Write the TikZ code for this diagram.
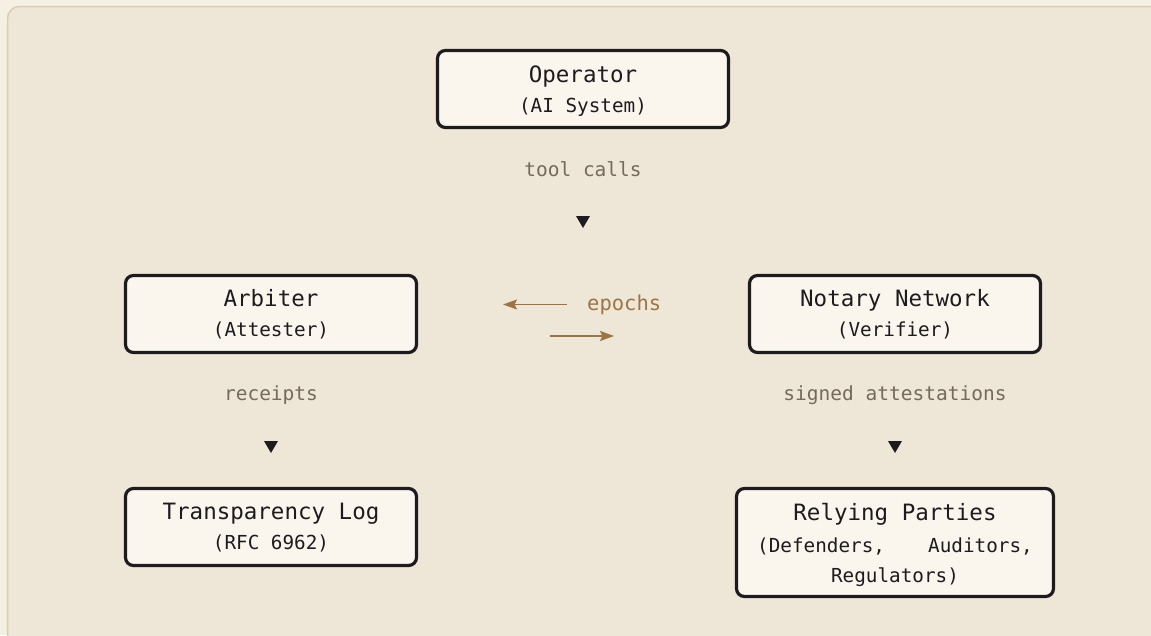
\documentclass[tikz,border=0pt]{standalone}
\usepackage{fontspec}
\newfontfamily\codefont{DejaVu Sans Mono}
\usetikzlibrary{arrows.meta}

\definecolor{pagebg}{HTML}{F5F0E4}
\definecolor{panelbg}{HTML}{EEE6D6}
\definecolor{panelrule}{HTML}{D9CDB6}
\definecolor{boxfill}{HTML}{FAF6EE}
\definecolor{boxrule}{HTML}{1E1B1F}
\definecolor{flowtext}{HTML}{77695C}
\definecolor{epochcol}{HTML}{9B7545}

\begin{document}
\begin{tikzpicture}[x=1pt,y=-1pt,
  actor/.style={draw=boxrule, fill=boxfill, line width=3.2pt, rounded corners=8pt,
    minimum width=291pt, minimum height=77pt, inner sep=0pt},
  title/.style={anchor=base, inner sep=0pt, text=boxrule,
    font=\codefont\fontsize{22.5}{27}\selectfont},
  sub/.style={anchor=base, inner sep=0pt, text=boxrule,
    font=\codefont\fontsize{19.3}{23}\selectfont},
  flow/.style={anchor=base, inner sep=0pt, text=flowtext,
    font=\codefont\fontsize{19.5}{23}\selectfont},
  marker/.style={fill=boxrule},
  epoch/.style={draw=epochcol, line width=1.8pt,
    -{Stealth[length=14pt,width=10pt,inset=2.5pt]}}]

% page and panel
\fill[pagebg] (0,0) rectangle (1151,635);
\useasboundingbox (0,0) rectangle (1151,635);
\clip (0,0) rectangle (1151,635);
\draw[panelrule, fill=panelbg, line width=1.5pt, rounded corners=12pt]
  (7.5,6.5) rectangle (1180,670);

% actors
\node[actor] (operator) at (583,89) {};
\node[actor] (arbiter)  at (271,314) {};
\node[actor] (notary)   at (895,314) {};
\node[actor] (tlog)     at (271,527) {};
\node[actor, minimum width=317pt, minimum height=108pt] (relying) at (895,542.5) {};

\node[title] (operatorT) at (583,82)  {Operator};
\node[sub]   (operatorS) at (583,112) {(AI System)};
\node[title] (arbiterT)  at (271,306) {Arbiter};
\node[sub]   (arbiterS)  at (271,336) {(Attester)};
\node[title] (notaryT)   at (895,306) {Notary Network};
\node[sub]   (notaryS)   at (895,336) {(Verifier)};
\node[title] (tlogT)     at (271,519) {Transparency Log};
\node[sub]   (tlogS)     at (271,549) {(RFC 6962)};
\node[title] (relyingT)  at (895,520) {Relying Parties};
\node[sub, anchor=base west] (relyingA) at (757,552) {(Defenders,};
\node[sub, anchor=base east] (relyingB) at (1033,552) {Auditors,};
\node[sub]   (relyingC)  at (895,582) {Regulators)};

% flow labels with their markers
\node[flow] (toolcalls) at (583,176) {tool calls};
\fill[marker] (576,216) -- (590,216) -- (583,228) -- cycle;
\node[flow] (receipts) at (271,400) {receipts};
\fill[marker] (264,441) -- (278,441) -- (271,453) -- cycle;
\node[flow] (signed) at (895,400) {signed attestations};
\fill[marker] (888,441) -- (902,441) -- (895,453) -- cycle;

% epoch exchange between arbiter and notary
\coordinate (epochLfrom) at (567,304.5);
\coordinate (epochLto)   at (503,304.5);
\coordinate (epochRfrom) at (550,336);
\coordinate (epochRto)   at (614,336);
\draw[epoch] (epochLfrom) -- (epochLto);
\draw[epoch] (epochRfrom) -- (epochRto);
\node[anchor=base west, inner sep=0pt, text=epochcol,
  font=\codefont\fontsize{20.5}{24}\selectfont] (epochs) at (587,310) {epochs};
\end{tikzpicture}
\end{document}
